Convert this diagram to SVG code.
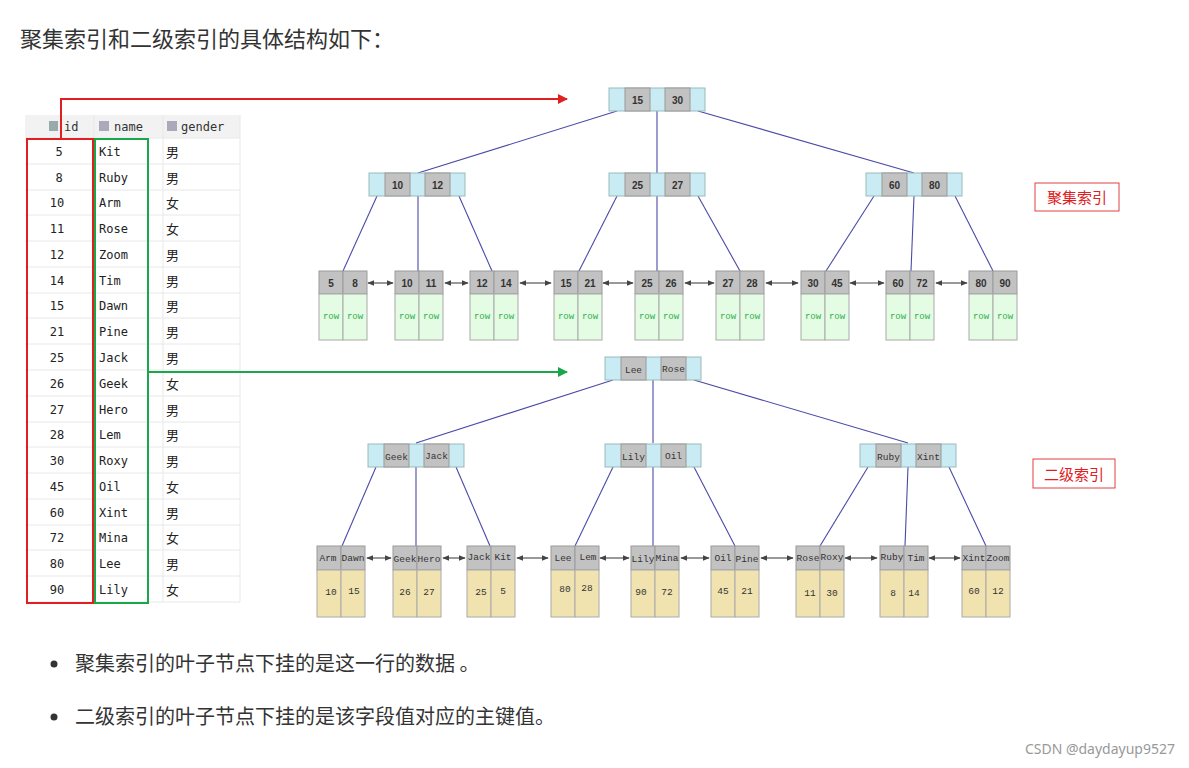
<svg xmlns="http://www.w3.org/2000/svg" width="1189" height="768" viewBox="0 0 1189 768">
<style>
.t{font-family:"Noto Sans CJK SC","Noto Sans",sans-serif;fill:#333}
.m{font-family:"DejaVu Sans Mono",monospace;font-size:12px;fill:#222}
.h{font-family:"DejaVu Sans Mono",monospace;font-size:12px;fill:#333}
.cn{font-family:"Noto Sans CJK SC",sans-serif;font-size:13px;fill:#222}
.lt{fill:#c9ebf3;stroke:#9bb;stroke-width:1}
.gr{fill:#c2c2c2;stroke:#9a9a9a;stroke-width:1}
.gn{fill:#e4fbe4;stroke:#aaa;stroke-width:1}
.yl{fill:#f1e3b0;stroke:#aaa;stroke-width:1}
.k{font-family:"Liberation Sans",Arial,sans-serif;font-weight:bold;font-size:10px;fill:#333;text-anchor:middle}
.s{font-family:"Liberation Mono","Courier New",monospace;font-size:9.5px;fill:#333;text-anchor:middle}
.r{font-family:"Liberation Mono","Courier New",monospace;font-size:9px;fill:#2bb04a;text-anchor:middle}
.e{stroke:#4a4aa8;stroke-width:1.1;fill:none}
.a{stroke:#555;stroke-width:1.2;fill:none;marker-start:url(#ah);marker-end:url(#ah)}
.lab{font-family:"Noto Sans CJK SC",sans-serif;font-size:15px;fill:#e02020;text-anchor:middle}
</style>
<defs>
<marker id="ah" viewBox="0 0 10 10" refX="9" refY="5" markerWidth="6" markerHeight="6" orient="auto-start-reverse"><path d="M0,1 L10,5 L0,9 z" fill="#444"/></marker>
<marker id="rh" viewBox="0 0 10 10" refX="9" refY="5" markerWidth="5" markerHeight="5" orient="auto"><path d="M0,0 L10,5 L0,10 z" fill="#e02020"/></marker>
<marker id="gh" viewBox="0 0 10 10" refX="9" refY="5" markerWidth="5" markerHeight="5" orient="auto"><path d="M0,0 L10,5 L0,10 z" fill="#1aa64a"/></marker>
<g id="inode"><rect class="lt" x="0" y="0" width="96" height="23"/><rect class="gr" x="16" y="0" width="25" height="23"/><rect class="gr" x="56" y="0" width="25" height="23"/></g>
<g id="lg"><rect class="gr" x="0" y="0" width="24" height="23"/><rect class="gr" x="24" y="0" width="24" height="23"/><rect class="gn" x="0" y="23" width="24" height="46"/><rect class="gn" x="24" y="23" width="24" height="46"/></g>
<g id="ly"><rect class="gr" x="0" y="0" width="24" height="24"/><rect class="gr" x="24" y="0" width="24" height="24"/><rect class="yl" x="0" y="24" width="24" height="47"/><rect class="yl" x="24" y="24" width="24" height="47"/></g>
</defs>
<rect width="1189" height="768" fill="#fff"/>
<text class="t" x="20" y="47" font-size="22">聚集索引和二级索引的具体结构如下：</text>

<g id="table">
<rect x="25" y="115" width="215" height="23" fill="#f2f2f2"/>
<g stroke="#e8e8e8" stroke-width="1">
<line x1="25" y1="138" x2="240" y2="138"/><line x1="25" y1="164" x2="240" y2="164"/><line x1="25" y1="190" x2="240" y2="190"/><line x1="25" y1="215" x2="240" y2="215"/><line x1="25" y1="241" x2="240" y2="241"/><line x1="25" y1="267" x2="240" y2="267"/><line x1="25" y1="293" x2="240" y2="293"/><line x1="25" y1="318" x2="240" y2="318"/><line x1="25" y1="344" x2="240" y2="344"/><line x1="25" y1="370" x2="240" y2="370"/><line x1="25" y1="396" x2="240" y2="396"/><line x1="25" y1="422" x2="240" y2="422"/><line x1="25" y1="447" x2="240" y2="447"/><line x1="25" y1="473" x2="240" y2="473"/><line x1="25" y1="499" x2="240" y2="499"/><line x1="25" y1="525" x2="240" y2="525"/><line x1="25" y1="550" x2="240" y2="550"/><line x1="25" y1="576" x2="240" y2="576"/><line x1="25" y1="602" x2="240" y2="602"/>
<line x1="94" y1="115" x2="94" y2="602"/><line x1="163" y1="115" x2="163" y2="602"/><line x1="240" y1="115" x2="240" y2="602"/>
</g>
<rect x="49" y="121" width="9" height="10" fill="#9aa"/><rect x="99" y="121" width="10" height="10" fill="#aab"/><rect x="167" y="121" width="10" height="10" fill="#aab"/>
<text class="h" x="64" y="131">id</text><text class="h" x="114" y="131">name</text><text class="h" x="181" y="131">gender</text>
<g class="m" text-anchor="middle">
<text x="59" y="156">5</text><text x="59" y="182">8</text><text x="57" y="207">10</text><text x="57" y="233">11</text><text x="57" y="259">12</text><text x="57" y="285">14</text><text x="57" y="310">15</text><text x="57" y="336">21</text><text x="57" y="362">25</text><text x="57" y="388">26</text><text x="57" y="414">27</text><text x="57" y="439">28</text><text x="57" y="465">30</text><text x="57" y="491">45</text><text x="57" y="517">60</text><text x="57" y="542">72</text><text x="57" y="568">80</text><text x="57" y="594">90</text>
</g>
<g class="m">
<text x="99" y="156">Kit</text><text x="99" y="182">Ruby</text><text x="99" y="207">Arm</text><text x="99" y="233">Rose</text><text x="99" y="259">Zoom</text><text x="99" y="285">Tim</text><text x="99" y="310">Dawn</text><text x="99" y="336">Pine</text><text x="99" y="362">Jack</text><text x="99" y="388">Geek</text><text x="99" y="414">Hero</text><text x="99" y="439">Lem</text><text x="99" y="465">Roxy</text><text x="99" y="491">Oil</text><text x="99" y="517">Xint</text><text x="99" y="542">Mina</text><text x="99" y="568">Lee</text><text x="99" y="594">Lily</text>
</g>
<g class="cn">
<text x="166" y="157">男</text><text x="166" y="183">男</text><text x="166" y="208">女</text><text x="166" y="234">女</text><text x="166" y="260">男</text><text x="166" y="286">男</text><text x="166" y="311">男</text><text x="166" y="337">男</text><text x="166" y="363">男</text><text x="166" y="389">女</text><text x="166" y="415">男</text><text x="166" y="440">男</text><text x="166" y="466">男</text><text x="166" y="492">女</text><text x="166" y="518">男</text><text x="166" y="543">女</text><text x="166" y="569">男</text><text x="166" y="595">女</text>
</g>
<rect x="27" y="139" width="66" height="464" fill="none" stroke="#e02020" stroke-width="2"/>
<rect x="95" y="139" width="53" height="464" fill="none" stroke="#1aa64a" stroke-width="2"/>
</g>

<g id="connectors">
<polyline points="61,139 61,99 567,99" fill="none" stroke="#e02020" stroke-width="2" marker-end="url(#rh)"/>
<line x1="148" y1="372" x2="567" y2="372" stroke="#1aa64a" stroke-width="2" marker-end="url(#gh)"/>
<g class="e">
<line x1="617" y1="111" x2="418" y2="173"/><line x1="657" y1="111" x2="657" y2="173"/><line x1="698" y1="111" x2="914" y2="173"/>
<line x1="377" y1="196" x2="343" y2="271"/><line x1="418" y1="196" x2="418" y2="271"/><line x1="459" y1="196" x2="492" y2="271"/>
<line x1="617" y1="196" x2="579" y2="271"/><line x1="657" y1="196" x2="657" y2="271"/><line x1="698" y1="196" x2="740" y2="271"/>
<line x1="874" y1="196" x2="826" y2="271"/><line x1="914" y1="196" x2="911" y2="271"/><line x1="955" y1="196" x2="993" y2="271"/>
<line x1="613" y1="380" x2="416" y2="443"/><line x1="653" y1="380" x2="653" y2="443"/><line x1="694" y1="380" x2="908" y2="443"/>
<line x1="376" y1="467" x2="342" y2="546"/><line x1="416" y1="467" x2="416" y2="546"/><line x1="456" y1="467" x2="490" y2="546"/>
<line x1="613" y1="467" x2="575" y2="546"/><line x1="653" y1="467" x2="653" y2="546"/><line x1="694" y1="467" x2="735" y2="546"/>
<line x1="868" y1="467" x2="820" y2="546"/><line x1="908" y1="467" x2="905" y2="546"/><line x1="949" y1="467" x2="986" y2="546"/>
</g>
<g class="a">
<line x1="368" y1="283" x2="393" y2="283"/><line x1="445" y1="283" x2="468" y2="283"/><line x1="520" y1="283" x2="551" y2="283"/><line x1="603" y1="283" x2="633" y2="283"/><line x1="685" y1="283" x2="714" y2="283"/><line x1="766" y1="283" x2="798" y2="283"/><line x1="850" y1="283" x2="884" y2="283"/><line x1="936" y1="283" x2="967" y2="283"/>
<line x1="367" y1="558" x2="391" y2="558"/><line x1="443" y1="558" x2="465" y2="558"/><line x1="517" y1="558" x2="548" y2="558"/><line x1="600" y1="558" x2="629" y2="558"/><line x1="681" y1="558" x2="709" y2="558"/><line x1="761" y1="558" x2="793" y2="558"/><line x1="845" y1="558" x2="877" y2="558"/><line x1="929" y1="558" x2="960" y2="558"/>
</g>
</g>

<g id="c-root" transform="translate(609,88)"><use href="#inode"/><text class="k" x="28.5" y="16">15</text><text class="k" x="68.5" y="16">30</text></g>
<g id="c-n1" transform="translate(369,173)"><use href="#inode"/><text class="k" x="28.5" y="16">10</text><text class="k" x="68.5" y="16">12</text></g>
<g id="c-n2" transform="translate(609,173)"><use href="#inode"/><text class="k" x="28.5" y="16">25</text><text class="k" x="68.5" y="16">27</text></g>
<g id="c-n3" transform="translate(866,173)"><use href="#inode"/><text class="k" x="28.5" y="16">60</text><text class="k" x="68.5" y="16">80</text></g>

<g id="c-l1" transform="translate(319,271)"><use href="#lg"/><text class="k" x="12" y="16">5</text><text class="k" x="36" y="16">8</text><text class="r" x="12" y="48">row</text><text class="r" x="36" y="48">row</text></g>
<g id="c-l2" transform="translate(395,271)"><use href="#lg"/><text class="k" x="12" y="16">10</text><text class="k" x="36" y="16">11</text><text class="r" x="12" y="48">row</text><text class="r" x="36" y="48">row</text></g>
<g id="c-l3" transform="translate(470,271)"><use href="#lg"/><text class="k" x="12" y="16">12</text><text class="k" x="36" y="16">14</text><text class="r" x="12" y="48">row</text><text class="r" x="36" y="48">row</text></g>
<g id="c-l4" transform="translate(554,271)"><use href="#lg"/><text class="k" x="12" y="16">15</text><text class="k" x="36" y="16">21</text><text class="r" x="12" y="48">row</text><text class="r" x="36" y="48">row</text></g>
<g id="c-l5" transform="translate(635,271)"><use href="#lg"/><text class="k" x="12" y="16">25</text><text class="k" x="36" y="16">26</text><text class="r" x="12" y="48">row</text><text class="r" x="36" y="48">row</text></g>
<g id="c-l6" transform="translate(716,271)"><use href="#lg"/><text class="k" x="12" y="16">27</text><text class="k" x="36" y="16">28</text><text class="r" x="12" y="48">row</text><text class="r" x="36" y="48">row</text></g>
<g id="c-l7" transform="translate(801,271)"><use href="#lg"/><text class="k" x="12" y="16">30</text><text class="k" x="36" y="16">45</text><text class="r" x="12" y="48">row</text><text class="r" x="36" y="48">row</text></g>
<g id="c-l8" transform="translate(886,271)"><use href="#lg"/><text class="k" x="12" y="16">60</text><text class="k" x="36" y="16">72</text><text class="r" x="12" y="48">row</text><text class="r" x="36" y="48">row</text></g>
<g id="c-l9" transform="translate(969,271)"><use href="#lg"/><text class="k" x="12" y="16">80</text><text class="k" x="36" y="16">90</text><text class="r" x="12" y="48">row</text><text class="r" x="36" y="48">row</text></g>

<g id="s-root" transform="translate(605,357)"><use href="#inode"/><text class="s" x="28.5" y="16">Lee</text><text class="s" x="68.5" y="15">Rose</text></g>
<g id="s-n1" transform="translate(368,444)"><use href="#inode"/><text class="s" x="28.5" y="16">Geek</text><text class="s" x="68.5" y="15">Jack</text></g>
<g id="s-n2" transform="translate(605,444)"><use href="#inode"/><text class="s" x="28.5" y="16">Lily</text><text class="s" x="68.5" y="15">Oil</text></g>
<g id="s-n3" transform="translate(860,444)"><use href="#inode"/><text class="s" x="28.5" y="16">Ruby</text><text class="s" x="68.5" y="16">Xint</text></g>

<g id="s-l1" transform="translate(317,546)"><use href="#ly"/><text class="s" x="11" y="15">Arm</text><text class="s" x="36" y="15">Dawn</text><text class="s" x="14" y="49">10</text><text class="s" x="37" y="48">15</text></g>
<g id="s-l2" transform="translate(393,546)"><use href="#ly"/><text class="s" x="12" y="16">Geek</text><text class="s" x="36" y="16">Hero</text><text class="s" x="12" y="49">26</text><text class="s" x="36" y="49">27</text></g>
<g id="s-l3" transform="translate(467,546)"><use href="#ly"/><text class="s" x="12" y="14">Jack</text><text class="s" x="36" y="14">Kit</text><text class="s" x="14" y="49">25</text><text class="s" x="36" y="48">5</text></g>
<g id="s-l4" transform="translate(551,546)"><use href="#ly"/><text class="s" x="12" y="15">Lee</text><text class="s" x="37" y="14">Lem</text><text class="s" x="14" y="46">80</text><text class="s" x="36" y="45">28</text></g>
<g id="s-l5" transform="translate(631,546)"><use href="#ly"/><text class="s" x="12" y="16">Lily</text><text class="s" x="36" y="15">Mina</text><text class="s" x="10" y="49">90</text><text class="s" x="36" y="49">72</text></g>
<g id="s-l6" transform="translate(711,546)"><use href="#ly"/><text class="s" x="12" y="15">Oil</text><text class="s" x="36" y="16">Pine</text><text class="s" x="12" y="48">45</text><text class="s" x="36" y="48">21</text></g>
<g id="s-l7" transform="translate(796,546)"><use href="#ly"/><text class="s" x="12" y="15">Rose</text><text class="s" x="36" y="14">Roxy</text><text class="s" x="14" y="50">11</text><text class="s" x="36" y="50">30</text></g>
<g id="s-l8" transform="translate(880,546)"><use href="#ly"/><text class="s" x="12" y="14">Ruby</text><text class="s" x="36" y="15">Tim</text><text class="s" x="13" y="50">8</text><text class="s" x="34" y="50">14</text></g>
<g id="s-l9" transform="translate(962,546)"><use href="#ly"/><text class="s" x="12" y="15">Xint</text><text class="s" x="36" y="15">Zoom</text><text class="s" x="12" y="48">60</text><text class="s" x="36" y="48">12</text></g>

<g id="label-c"><rect x="1035" y="183" width="84" height="28" fill="#fff" stroke="#e04040" stroke-width="1"/><text class="lab" x="1077" y="203">聚集索引</text></g>
<g id="label-s"><rect x="1033" y="459" width="82" height="29" fill="#fff" stroke="#e04040" stroke-width="1"/><text class="lab" x="1074" y="480">二级索引</text></g>

<circle cx="54" cy="664" r="3.5" fill="#333"/>
<text class="t" x="75" y="671" font-size="20">聚集索引的叶子节点下挂的是这一行的数据 。</text>
<circle cx="54" cy="717" r="3.5" fill="#333"/>
<text class="t" x="75" y="724" font-size="20">二级索引的叶子节点下挂的是该字段值对应的主键值。</text>
<text x="1175" y="754" text-anchor="end" font-family="Noto Sans,sans-serif" font-size="14" fill="#999">CSDN @daydayup9527</text>
</svg>
